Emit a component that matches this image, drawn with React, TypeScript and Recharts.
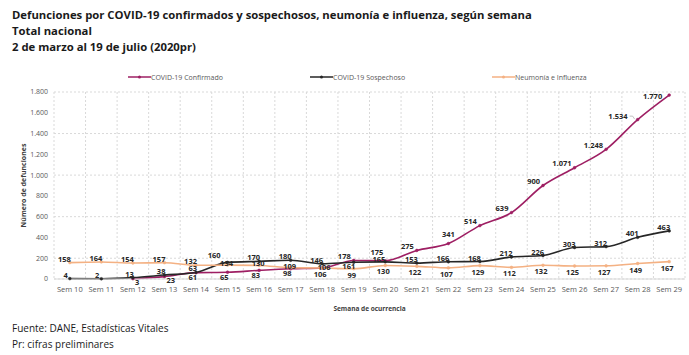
import { LineChart, Line, XAxis, YAxis, CartesianGrid, LabelList } from "recharts"

// Defunciones semanales (Sem 10 a Sem 29), tres series con etiquetas de datos.

const weeks = [
  "Sem 10", "Sem 11", "Sem 12", "Sem 13", "Sem 14", "Sem 15", "Sem 16", "Sem 17", "Sem 18", "Sem 19",
  "Sem 20", "Sem 21", "Sem 22", "Sem 23", "Sem 24", "Sem 25", "Sem 26", "Sem 27", "Sem 28", "Sem 29",
]
const confirmado = [null, null, 3, 23, 61, 65, 83, 98, 106, 178, 175, 275, 341, 514, 639, 900, 1071, 1248, 1534, 1770]
const sospechoso = [4, 2, 13, 38, 63, 160, 170, 180, 146, 161, 165, 153, 166, 168, 212, 226, 303, 312, 401, 463]
const neumonia = [158, 164, 154, 157, 132, 134, 130, 109, 106, 99, 130, 122, 107, 129, 112, 132, 125, 127, 149, 167]
const yTicks = [0, 200, 400, 600, 800, 1000, 1200, 1400, 1600, 1800]

const series = [
  { key: "confirmado", name: "COVID-19 Confirmado", color: "#9E1F63" },
  { key: "sospechoso", name: "COVID-19 Sospechoso", color: "#262626" },
  { key: "neumonia", name: "Neumonía e Influenza", color: "#F4B183" },
]

const data = weeks.map((w, i) => ({
  week: w,
  confirmado: confirmado[i],
  sospechoso: sospechoso[i],
  neumonia: neumonia[i],
}))

const fmt = (v: number) => v.toLocaleString("de-DE")
const FONT = "'Open Sans', sans-serif"
const LBL = { fontSize: 7.5, fontWeight: 700, fill: "#262626", fontFamily: FONT }

type Place = { dx: number; dy: number; anchor: string; leader?: boolean }

// excepciones de colocación de etiquetas, donde chocan entre sí
const NUDGE: Record<string, Record<string, Place>> = {
  confirmado: {
    "Sem 18": { dx: 2, dy: -1, anchor: "middle" },
    "Sem 20": { dx: -2, dy: -9, anchor: "end" },
    "Sem 22": { dx: 0, dy: -9.5, anchor: "middle" },
    "Sem 28": { dx: -10, dy: -3.5, anchor: "end", leader: true },
    "Sem 29": { dx: -7, dy: 1, anchor: "end" },
  },
  sospechoso: {
    "Sem 10": { dx: -2, dy: -4, anchor: "end" },
    "Sem 11": { dx: -2, dy: -4, anchor: "end" },
    "Sem 15": { dx: -7, dy: -7, anchor: "end" },
    "Sem 19": { dx: 1.5, dy: 4, anchor: "end" },
    "Sem 20": { dx: 0, dy: -3, anchor: "end" },
  },
  neumonia: {},
}

function placeFor(key: string, i: number): Place {
  const hit = NUDGE[key][weeks[i]]
  if (hit) return hit
  const c = confirmado[i]
  const s = sospechoso[i]
  const n = neumonia[i]
  if (key === "confirmado") {
    if (c! < s) return c! < 40 ? { dx: 2, dy: 3, anchor: "start" } : { dx: 1, dy: 4.5, anchor: "end" }
    return { dx: -3, dy: -4.5, anchor: "end" }
  }
  if (key === "sospechoso") return { dx: 1, dy: -4, anchor: "end" }
  if (n > s) return { dx: 1, dy: -4, anchor: "end" }
  if (c == null || n > c) return { dx: -1, dy: -2, anchor: "middle" }
  return { dx: -2, dy: 6, anchor: "middle" }
}

function makeLabel(key: string) {
  return (p: any) => {
    const { x, y, value, index } = p
    if (value == null) return null
    const pl = placeFor(key, index)
    const tx = x + pl.dx
    const ty = y + pl.dy
    return (
      <g>
        {pl.leader && (
          <path d={`M${tx + 2},${ty} L${tx + 5},${ty} L${tx + 7},${ty + 3}`} stroke="#a6a6a6" strokeWidth={0.7} fill="none" />
        )}
        <text x={tx} y={ty} textAnchor={pl.anchor} dominantBaseline="central" {...LBL}>
          {fmt(value)}
        </text>
      </g>
    )
  }
}

function LegendRow() {
  return (
    <div style={{ position: "absolute", top: 72, left: 128, display: "flex", fontFamily: FONT }}>
      {series.map((s) => (
        <div key={s.key} style={{ width: 182, display: "flex", alignItems: "center", height: 10 }}>
          <svg width={23} height={10}>
            <line x1={0} y1={5} x2={23} y2={5} stroke={s.color} strokeWidth={1.5} />
            <circle cx={11.5} cy={5} r={1.5} fill={s.color} />
          </svg>
          <span style={{ fontSize: 7, color: "#595959", whiteSpace: "nowrap" }}>{s.name}</span>
        </div>
      ))}
    </div>
  )
}

export default function App() {
  return (
    <div style={{ position: "absolute", top: 0, left: 0, width: 689, height: 355, background: "#fff", fontFamily: FONT }}>
      <div style={{ position: "absolute", top: 7, left: 12, fontSize: 11.3, fontWeight: 700, lineHeight: "16px", color: "#1a1a1a" }}>
        <div>Defunciones por COVID-19 confirmados y sospechosos, neumonía e influenza, según semana</div>
        <div>Total nacional</div>
        <div>2 de marzo al 19 de julio (2020pr)</div>
      </div>
      <LegendRow />
      <LineChart width={689} height={355} data={data} margin={{ top: 92, right: 4, bottom: 46, left: 0 }}>
        <CartesianGrid
          stroke="#d9d9d9"
          strokeDasharray="2 2"
          verticalCoordinatesGenerator={({ offset }: any) =>
            Array.from({ length: weeks.length + 1 }, (_, i) => offset.left + (i * offset.width) / weeks.length)
          }
        />
        <XAxis
          dataKey="week"
          padding={{ left: 15.8, right: 15.8 }}
          tickLine={false}
          axisLine={{ stroke: "#d9d9d9" }}
          height={30}
          interval={0}
          tick={{ fontSize: 7.5, fill: "#595959", fontFamily: FONT }}
          label={{
            content: ({ viewBox }: any) => (
              <text
                x={viewBox.x + viewBox.width / 2}
                y={viewBox.y + 29}
                textAnchor="middle"
                dominantBaseline="central"
                fontSize={6.5}
                fontWeight={700}
                fill="#404040"
                fontFamily={FONT}
              >
                Semana de ocurrencia
              </text>
            ),
          }}
        />
        <YAxis
          width={54}
          domain={[0, 1800]}
          ticks={yTicks}
          tickFormatter={fmt}
          tickLine={false}
          axisLine={false}
          tickSize={4}
          tick={{ fontSize: 7, fill: "#595959", fontFamily: FONT }}
          label={{
            content: ({ viewBox }: any) => {
              const cx = 23
              const cy = viewBox.y + viewBox.height / 2
              return (
                <text
                  x={cx}
                  y={cy}
                  transform={`rotate(-90 ${cx} ${cy})`}
                  textAnchor="middle"
                  dominantBaseline="central"
                  fontSize={7}
                  fontWeight={700}
                  fill="#404040"
                  fontFamily={FONT}
                >
                  Número de defunciones
                </text>
              )
            },
          }}
        />
        {series.map((s) => (
          <Line
            key={s.key}
            type="monotone"
            dataKey={s.key}
            name={s.name}
            stroke={s.color}
            strokeWidth={1.6}
            dot={{ r: 1.4, fill: s.color, stroke: s.color, strokeWidth: 0.5 }}
            isAnimationActive={false}
          >
            <LabelList dataKey={s.key} content={makeLabel(s.key)} />
          </Line>
        ))}
      </LineChart>
      <div style={{ position: "absolute", top: 320, left: 12, fontSize: 10, lineHeight: "16px", color: "#1a1a1a" }}>
        <div>Fuente: DANE, Estadísticas Vitales</div>
        <div>Pr: cifras preliminares</div>
      </div>
    </div>
  )
}
